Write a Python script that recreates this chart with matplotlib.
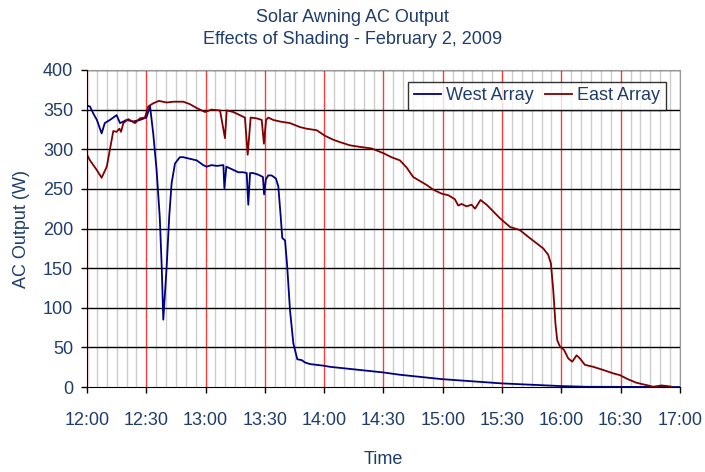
import matplotlib
matplotlib.use('Agg')
import matplotlib.pyplot as plt

# minutes after 12:00 and AC output (W)
west_min = [0, 1.5, 3.2, 5, 7.4, 9, 11.6, 15, 16.7, 18.4, 20, 23.4, 26.8, 30,
            31.9, 33.5, 35.2, 36.8, 37.8, 38.6, 40.3, 41.6, 42.8, 44.5, 47,
            48.7, 52, 55.5, 58.8, 60.5, 63, 65.6, 69, 69.5, 70.5, 74, 76.5,
            79, 80.8, 81.6, 82.5, 84, 86.6, 89, 89.6, 90.5, 91.7, 93.4, 95.6,
            96.8, 98, 98.8, 100.2, 101.3, 102.7, 104.4, 106.4, 108.6, 110.3,
            112.8, 119.5, 123, 149.6, 158.3, 179.4, 209.8, 239, 252.7, 300]
west_w = [355, 354, 345, 337, 320, 333, 337, 343, 333, 335, 337, 335, 337, 340,
          354, 320, 274, 215, 152, 85, 152, 215, 257, 282, 290,
          290, 288, 286, 280, 278, 280, 279, 280, 251, 278, 274, 271,
          271, 270, 230, 270, 270, 268, 265, 243, 262, 267, 267, 263,
          253, 215, 188, 185, 152, 97, 55, 35, 34, 31,
          29, 27, 25.5, 18.5, 15.5, 10, 4.6, 1.3, 0.3, 0]

east_min = [0, 1.5, 3.2, 4.9, 7.4, 10, 12.5, 13.3, 15, 16.4, 17.2, 18.4, 20.9,
            24.3, 26.8, 29.3, 31, 33.5, 36.4, 40.3, 43.7, 48.7, 52, 55.5,
            59.7, 63, 67.3, 69.8, 70.7, 74, 77.4, 79.9, 81.3, 82.8, 85.8, 88.4,
            89.5, 90.6, 91.7, 94.2, 97.6, 102.7, 107.7, 111, 116.2, 120.4,
            124.6, 128, 133, 138, 144, 150, 154, 158.3, 161.7, 165, 168.4,
            171.8, 175.2, 179.4, 182.8, 186.1, 187.8, 189.5, 192, 194.6, 196.3,
            199.1, 202.2, 208.9, 214, 219, 224, 230.8, 233.3, 234.7, 235.9, 237,
            237.9, 239.3, 241.3, 243.5, 245.5, 247.7, 249.4, 251.9, 256, 261.2,
            266.2, 269.6, 273.8, 278, 283, 286.5, 290.7, 293.2, 295.7]
east_w = [293, 286, 280, 274, 264, 278, 312, 323, 322, 326, 322, 333, 338,
          333, 339, 340, 354, 358, 361, 359, 360, 360, 357, 352,
          347, 350, 349, 314, 349, 347, 343, 340, 293, 340, 339, 337,
          307, 337, 340, 337, 335, 333, 328, 326, 324, 317,
          312, 309, 305, 303, 301, 295, 290, 286, 277, 265, 260,
          255, 249, 244, 242, 237, 229, 231, 228, 230, 225,
          236, 230, 213, 202, 198, 188, 175, 167, 156, 122, 80,
          59, 51, 47, 36, 32, 40, 36, 28, 25.6, 21.5,
          17.3, 15, 9.7, 5.4, 2.5, 0.4, 2, 1.3, 0.4]

tick_min = list(range(0, 301, 30))
tick_labels = ['12:00', '12:30', '13:00', '13:30', '14:00', '14:30',
               '15:00', '15:30', '16:00', '16:30', '17:00']
y_ticks = list(range(0, 401, 50))

txt = '#1F3D6B'
plt.rcParams['font.family'] = ['Liberation Sans', 'DejaVu Sans']
plt.rcParams['font.size'] = 13

fig = plt.figure(figsize=(7.05, 4.72), dpi=100)
ax = fig.add_axes([0.1234, 0.180, 0.8411, 0.6717])

# grid
for m in range(0, 301, 5):
    if m % 30 == 0:
        ax.axvline(m, color='#FF3C3C', lw=1.0, zorder=1)
    else:
        ax.axvline(m, color='#CCCCCC', lw=1.0, zorder=0.5)
for y in y_ticks[1:]:
    ax.axhline(y, color='black', lw=1.0, zorder=1.5)

ax.plot(west_min, west_w, color='#000080', lw=1.3, label='West Array', zorder=3)
ax.plot(east_min, east_w, color='#800000', lw=1.3, label='East Array', zorder=3)

ax.set_xlim(0, 300)
ax.set_ylim(0, 400)
ax.set_xticks(tick_min)
ax.set_xticklabels(tick_labels)
ax.set_yticks(y_ticks)
ax.tick_params(axis='both', direction='out', length=4, width=1, colors='black',
               labelcolor=txt, labelsize=13)
ax.tick_params(axis='x', pad=14)
ax.tick_params(axis='y', pad=6)

for side in ['left', 'bottom']:
    ax.spines[side].set_color('black')
    ax.spines[side].set_zorder(4)
for side in ['top', 'right']:
    ax.spines[side].set_color('#999999')

ax.set_xlabel('Time', color=txt, fontsize=13, labelpad=16)
ax.set_ylabel('AC Output (W)', color=txt, fontsize=13, labelpad=9)

fig.text(0.5, 1 - 17 / 472.0, 'Solar Awning AC Output', ha='center', va='center',
         color=txt, fontsize=13)
fig.text(0.5, 1 - 40 / 472.0, 'Effects of Shading - February 2, 2009', ha='center',
         va='center', color=txt, fontsize=13)

leg = ax.legend(loc='upper right', bbox_to_anchor=(0.976, 0.962), ncol=2,
                frameon=True, fancybox=False, handlelength=1.5, handletextpad=0.3,
                columnspacing=0.6, borderpad=0.3, borderaxespad=0, fontsize=13)
leg.get_frame().set_edgecolor('black')
leg.get_frame().set_linewidth(1.0)
for t in leg.get_texts():
    t.set_color(txt)
leg.set_zorder(5)

fig.savefig('out.png', dpi=100)
